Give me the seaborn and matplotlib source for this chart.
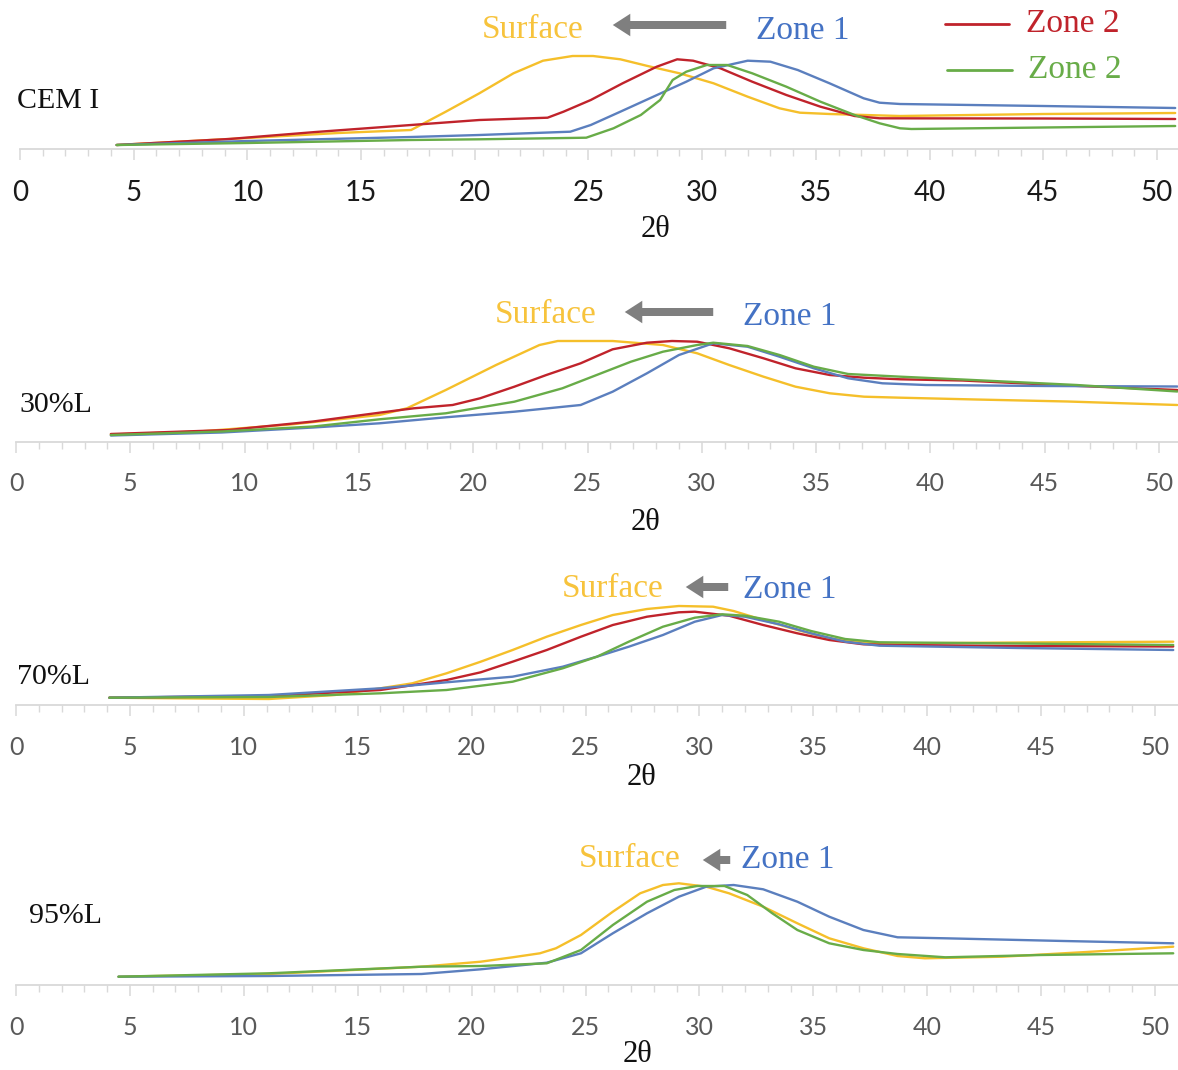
import numpy as np
import pandas as pd
import matplotlib
matplotlib.use('Agg')
import matplotlib.pyplot as plt
import seaborn as sns
from matplotlib.lines import Line2D
from matplotlib.patches import FancyArrowPatch

sns.set_theme(style='white')

# ---- data (2theta vs relative intensity, arbitrary units) ----
cem_surface_x = [4.25, 10, 14, 17.2, 18.7, 20.2, 21.7, 23.0, 24.3, 25.2, 26.4, 27.6, 29.0, 30.5, 32.0, 33.4, 34.3, 35.6, 38.7, 45, 50.8]
cem_surface_y = [4, 11, 16, 19, 37, 55.7, 75.7, 88.3, 93, 93, 89.7, 83, 75.7, 65.7, 52.3, 40.7, 36.3, 35, 33, 35, 36]
cem_zone2_x = [4.25, 9.2, 13, 17.2, 20.2, 23.2, 23.9, 25.1, 26.5, 28.0, 28.9, 29.6, 30.8, 32.2, 33.7, 35.2, 36.7, 37.8, 45, 50.8]
cem_zone2_y = [4, 10, 17, 24, 29, 31.3, 37.3, 49, 65.7, 82.3, 89.7, 88.3, 80.7, 67.3, 54, 42.3, 33, 30.7, 30.5, 30]
cem_zone1_x = [4.25, 10, 17.2, 20.2, 24.2, 25.1, 26.4, 27.85, 29.3, 30.5, 32.0, 33.0, 34.2, 35.6, 37.1, 37.8, 38.7, 45, 50.8]
cem_zone1_y = [4, 8, 12, 14, 17.3, 24, 37.3, 52.3, 67.3, 80.7, 88.3, 87.3, 79, 65.7, 50.7, 46.3, 45, 43, 41]
cem_zone3_x = [4.25, 10, 17.2, 20.2, 24.9, 26.1, 27.3, 28.15, 28.7, 29.3, 30.2, 31.1, 32.2, 33.7, 35.2, 36.7, 37.8, 38.7, 39.2, 45, 50.8]
cem_zone3_y = [4, 6, 9, 9.7, 11.3, 20.7, 34, 49, 69, 77.3, 84, 84, 75.7, 62.3, 47.3, 34, 25.7, 20.7, 20, 21.5, 23]

l30_surface_x = [4.15, 8, 12, 15.9, 17.1, 18.8, 21.0, 22.9, 23.7, 26.1, 28.3, 29.8, 31.2, 32.7, 34.1, 35.6, 37.1, 38.7, 42, 46, 50.8]
l30_surface_y = [7, 10, 17, 26.5, 33.2, 51.5, 76.5, 96.5, 100.5, 100.5, 96.5, 88.2, 76.5, 64.8, 54.8, 48.2, 44.8, 43.8, 42, 40, 36.5]
l30_zone2_x = [4.15, 9.3, 13, 15.9, 17.4, 19.1, 20.3, 21.8, 23.2, 24.7, 26.1, 27.6, 28.7, 29.8, 31.2, 32.7, 34.1, 35.6, 37.1, 38.7, 41.4, 46, 50.8]
l30_zone2_y = [7.5, 11.5, 20, 28.8, 33.2, 36.5, 43.2, 54.8, 66.5, 78.2, 92.2, 98.8, 100.5, 99.8, 93.2, 83.2, 73.2, 66.5, 63.8, 62.2, 61, 56, 51.5]
l30_zone1_x = [4.15, 9, 13, 15.9, 18.8, 21.8, 24.7, 26.1, 27.6, 29.0, 30.5, 32.0, 33.4, 34.9, 36.4, 37.9, 39.8, 45, 50.8]
l30_zone1_y = [6, 9, 14, 18.2, 24.2, 29.8, 36.5, 49.8, 68.2, 86.5, 98.2, 94.8, 84.8, 73.2, 63.2, 58.2, 56.5, 55.5, 55]
l30_zone3_x = [4.15, 9, 13, 15.9, 18.8, 21.8, 23.9, 25.4, 26.9, 28.3, 29.8, 30.5, 32.0, 33.4, 34.9, 36.4, 38.7, 41.4, 46.4, 50.8]
l30_zone3_y = [6.5, 10, 15, 22.2, 28.2, 39.8, 53.2, 66.5, 79.8, 89.8, 96.5, 98.8, 95.5, 86.5, 74.8, 67.5, 64.8, 62, 56.5, 50]

l70_surface_x = [4.1, 8, 11.1, 14, 16.0, 17.4, 18.9, 20.4, 21.8, 23.3, 24.8, 26.2, 27.7, 29.1, 30.6, 31.5, 32.8, 34.3, 35.7, 37.2, 38.7, 44, 50.8]
l70_surface_y = [7.3, 6.5, 6, 10, 16.7, 21.7, 31.7, 43.3, 55, 68.3, 80, 90, 96, 99, 98.3, 94, 85, 75, 66.7, 62.3, 61.7, 62.5, 63.3]
l70_zone2_x = [4.1, 11.1, 16.0, 18.9, 20.4, 21.8, 23.3, 24.8, 26.2, 27.7, 29.1, 29.8, 31.3, 32.8, 34.3, 35.7, 37.2, 38.7, 44, 50.8]
l70_zone2_y = [7.3, 9, 15, 25, 32.7, 43.3, 55, 68.3, 80, 88.3, 92.7, 93.3, 89.3, 80, 71.7, 65, 60.7, 60, 59, 58.5]
l70_zone1_x = [4.1, 11.1, 16.0, 18.9, 21.8, 24.0, 25.5, 26.9, 28.4, 29.8, 31.0, 32.0, 33.5, 34.9, 36.4, 37.9, 44, 50.8]
l70_zone1_y = [7.3, 10, 16.7, 22.7, 28.3, 38.3, 48.3, 58.3, 70, 83.3, 90, 88.3, 80.7, 71.7, 63.3, 59.3, 57, 55]
l70_zone3_x = [4.1, 11.1, 16.0, 18.9, 21.8, 24.0, 25.5, 26.9, 28.4, 29.8, 31.0, 32.0, 33.5, 34.9, 36.4, 37.9, 44, 50.8]
l70_zone3_y = [7.3, 8, 11.7, 15, 23.3, 36.7, 48.3, 63.3, 78.3, 87.3, 90.7, 89.3, 83.3, 74, 66, 62.7, 61.5, 60]

l95_surface_x = [4.5, 11.1, 17.8, 20.4, 21.8, 23.0, 23.7, 24.8, 26.2, 27.4, 28.4, 29.1, 30.3, 31.3, 32.8, 34.3, 35.7, 37.2, 38.7, 39.9, 43.3, 47, 50.8]
l95_surface_y = [8.3, 11, 18.3, 23.3, 27.7, 31.7, 36.7, 50, 73.3, 91.7, 100, 101.7, 98.3, 91.7, 78.3, 61.7, 46.7, 36.7, 29, 26.7, 28.3, 33, 38.3]
l95_zone1_x = [4.5, 11.1, 17.8, 20.4, 23.3, 24.8, 26.2, 27.7, 29.1, 30.3, 31.5, 32.8, 34.3, 35.7, 37.2, 38.7, 40.8, 46, 50.8]
l95_zone1_y = [8.3, 9, 11, 15.7, 22.3, 31.7, 51.7, 71.7, 88.3, 98.3, 100, 95.7, 83.3, 68.3, 55, 47.7, 46.7, 44, 41.7]
l95_zone3_x = [4.5, 11.1, 17.8, 20.4, 23.3, 24.8, 26.2, 27.7, 28.9, 29.9, 31.1, 32.1, 33.2, 34.3, 35.7, 37.2, 38.7, 40.8, 45, 50.8]
l95_zone3_y = [8.3, 11.7, 18.3, 19, 21.7, 35, 60, 83.3, 95, 99, 99, 90, 71.7, 55, 41.7, 35, 31, 27.7, 30, 31.7]

panel_names = ['CEM I', '30%L', '70%L', '95%L']

colors = {'Surface': '#F5BF2A', 'Zone 1': '#5B7FBE', 'Zone 2': '#C0232B', 'Zone 3': '#68AC48'}
text_blue = '#4472C4'
text_yellow = '#F7C33C'
arrow_gray = '#7F7F7F'
axis_gray = '#D9D9D9'

W, H = 1178, 1070


def fx(x):
    return x / W


def fy(y):
    return 1 - y / H


def make_df(series):
    frames = []
    for name, xs, ys in series:
        frames.append(pd.DataFrame({'2theta': xs, 'I': ys, 'zone': name}))
    return pd.concat(frames, ignore_index=True)


panels = [
    make_df([('Surface', cem_surface_x, cem_surface_y), ('Zone 2', cem_zone2_x, cem_zone2_y),
             ('Zone 1', cem_zone1_x, cem_zone1_y), ('Zone 3', cem_zone3_x, cem_zone3_y)]),
    make_df([('Surface', l30_surface_x, l30_surface_y), ('Zone 2', l30_zone2_x, l30_zone2_y),
             ('Zone 1', l30_zone1_x, l30_zone1_y), ('Zone 3', l30_zone3_x, l30_zone3_y)]),
    make_df([('Surface', l70_surface_x, l70_surface_y), ('Zone 2', l70_zone2_x, l70_zone2_y),
             ('Zone 1', l70_zone1_x, l70_zone1_y), ('Zone 3', l70_zone3_x, l70_zone3_y)]),
    make_df([('Surface', l95_surface_x, l95_surface_y),
             ('Zone 1', l95_zone1_x, l95_zone1_y), ('Zone 3', l95_zone3_x, l95_zone3_y)]),
]

# layout of each panel in pixels: x of 2theta=0, px per degree, y of axis line
x0_px = [20, 16, 16, 16]
scale_px = [22.74, 22.86, 22.78, 22.78]
axis_px = [149, 441.5, 705, 985]
tick_size = [20, 18, 18, 18]
tick_color = ['#1a1a1a', '#595959', '#595959', '#595959']
label_pos = [(17, 108), (19, 412), (17, 684), (29, 923)]
xlab_pos = [(656, 237), (645, 530), (641, 785), (637, 1062)]
surf_pos = [(482, 38), (495, 323), (562, 597), (579, 867)]
arrow_pos = [(729, 610, 25), (716, 622, 312), (731, 683, 587), (733, 700, 860)]
zone1_pos = [(756, 39), (743, 325), (743, 598), (741, 868)]
top_h = 130

fig = plt.figure(figsize=(W / 100, H / 100), dpi=100)
serif = ['Liberation Serif', 'DejaVu Serif']

for i, df in enumerate(panels):
    left = x0_px[i]
    ax = fig.add_axes([fx(left), fy(axis_px[i]), (W - left) / W, top_h / H])
    ax.set_facecolor('none')
    sns.lineplot(data=df, x='2theta', y='I', hue='zone', palette=colors, estimator=None,
                 sort=False, legend=False, linewidth=1.7, ax=ax)
    for ln in ax.lines:
        ln.set_solid_joinstyle('round')
        ln.set_solid_capstyle('round')
    ax.set_xlim(0, (W - left) / scale_px[i])
    ax.set_ylim(0, top_h)
    ax.set_xticks(np.arange(0, 51, 5))
    ax.set_xticks(np.arange(0, 51, 1), minor=True)
    ax.set_yticks([])
    ax.set_xlabel('')
    ax.set_ylabel('')
    for s in ['left', 'right', 'top']:
        ax.spines[s].set_visible(False)
    ax.spines['bottom'].set_color(axis_gray)
    ax.spines['bottom'].set_linewidth(1.3)
    ax.tick_params(axis='x', which='major', direction='out', length=8, width=1.1,
                   color=axis_gray, pad=14, labelsize=tick_size[i], labelcolor=tick_color[i],
                   bottom=True)
    ax.tick_params(axis='x', which='minor', direction='out', length=5, width=1.0,
                   color=axis_gray, bottom=True)
    for lab in ax.get_xticklabels():
        lab.set_family(['Lato', 'DejaVu Sans'])

    # panel name, axis title
    fig.text(fx(label_pos[i][0]), fy(label_pos[i][1]), panel_names[i], family=serif,
             fontsize=21.5, color='#111111', ha='left', va='baseline')
    fig.text(fx(xlab_pos[i][0]), fy(xlab_pos[i][1]), '2θ', family=serif,
             fontsize=22, color='#111111', ha='center', va='baseline')

    # Surface <- Zone 1 annotation
    fig.text(fx(surf_pos[i][0]), fy(surf_pos[i][1]), 'Surface', family=serif,
             fontsize=24, color=text_yellow, ha='left', va='baseline')
    fig.text(fx(zone1_pos[i][0]), fy(zone1_pos[i][1]), 'Zone 1', family=serif,
             fontsize=24, color=text_blue, ha='left', va='baseline')
    xa, xb, ya = arrow_pos[i]
    arr = FancyArrowPatch((fx(xa), fy(ya)), (fx(xb), fy(ya)), transform=fig.transFigure,
                          arrowstyle='simple,head_length=0.7,head_width=0.9,tail_width=0.32',
                          mutation_scale=18, color=arrow_gray, lw=0)
    fig.add_artist(arr)

# legend (top right of first panel)
for (xl0, xl1, yl), (xt, yt), c in [((945, 1009, 24), (1026, 32), colors['Zone 2']),
                                     ((947, 1012, 70), (1028, 78), colors['Zone 3'])]:
    fig.add_artist(Line2D([fx(xl0), fx(xl1)], [fy(yl), fy(yl)], transform=fig.transFigure,
                          color=c, linewidth=2))
    fig.text(fx(xt), fy(yt), 'Zone 2', family=serif, fontsize=24, color=c,
             ha='left', va='baseline')

fig.savefig('out.png', dpi=100, facecolor='white')
